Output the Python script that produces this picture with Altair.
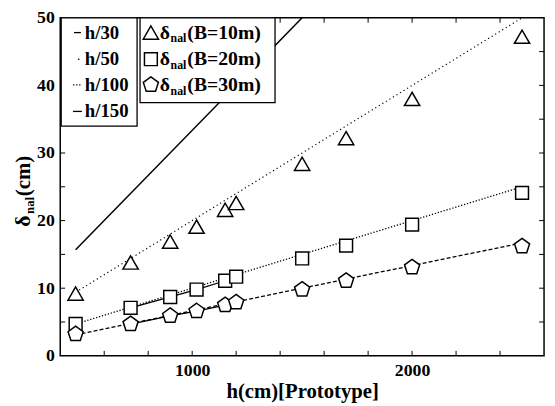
import altair as alt
import pandas as pd

# ---- data ----
h_vals = [470, 720, 900, 1020, 1150, 1200, 1500, 1700, 2000, 2500]
tri_vals = [9.2, 13.8, 16.9, 19.1, 21.6, 22.6, 28.4, 32.2, 38.0, 47.2]   # B=10m
sq_vals = [4.7, 7.1, 8.7, 9.8, 11.1, 11.7, 14.4, 16.3, 19.4, 24.1]       # B=20m
pent_vals = [3.2, 4.7, 5.9, 6.6, 7.5, 7.9, 9.8, 11.1, 13.1, 16.2]        # B=30m

# reference lines (end points)
h30_x, h30_y = [470, 1500], [15.7, 50.0]
h50_x, h50_y = [470, 2500], [9.4, 50.0]
h100_x, h100_y = [470, 2500], [4.7, 25.0]
h150_x, h150_y = [470, 2500], [3.1, 16.7]

# solid connectors between neighbouring measured points
conn_h = [720, 900, 1020, 1150, 1200]
conn_sq = [7.1, 8.7, 9.8, 11.1, 11.7]
conn_pent = [4.7, 5.9, 6.6, 7.5, 7.9]

x_label_vals = [1000, 2000]
y_label_vals = [0, 10, 20, 30, 40, 50]
x_tick_vals = [600, 800, 1000, 1200, 1400, 1600, 1800, 2000, 2200, 2400]
y_tick_vals = [5, 10, 15, 20, 25, 30, 35, 40, 45]

legend1_labels = ["h/30", "h/50", "h/100", "h/150"]
legend2_labels = ["(B=10m)", "(B=20m)", "(B=30m)"]

W, H = 491, 343
FONT = "'Liberation Serif', 'Times New Roman', serif"
PENT = "M0,-1L0.951,-0.309L0.588,0.809L-0.588,0.809L-0.951,-0.309Z"

xs = alt.Scale(domain=[400, 2600], nice=False, zero=False)
ys = alt.Scale(domain=[0, 50], nice=False)

one = pd.DataFrame({"a": [0]})


def xenc(field):
    return alt.X(f"{field}:Q", scale=xs,
                 axis=alt.Axis(values=x_label_vals, ticks=False, domain=False, grid=False,
                               title="h(cm)[Prototype]", format="d"))


def yenc(field):
    return alt.Y(f"{field}:Q", scale=ys,
                 axis=alt.Axis(values=y_label_vals, ticks=False, domain=False, grid=False,
                               title=None))


def ref_line(xv, yv, dash, sw):
    df = pd.DataFrame({"h": xv, "d": yv})
    kw = dict(color="black", strokeWidth=sw, clip=True)
    if dash:
        kw["strokeDash"] = dash
    return alt.Chart(df).mark_line(**kw).encode(x=xenc("h"), y=yenc("d"))


lines = [
    ref_line(h30_x, h30_y, None, 1.5),
    ref_line(h50_x, h50_y, [1.2, 3], 1.2),
    ref_line(h100_x, h100_y, [1.3, 1.8], 1.3),
    ref_line(h150_x, h150_y, [4, 2.2], 1.3),
    ref_line(conn_h, conn_sq, None, 1.3),
    ref_line(conn_h, conn_pent, None, 1.3),
]

pts = pd.DataFrame({"h": h_vals, "tri": tri_vals, "sq": sq_vals, "pent": pent_vals})


def points(field, shape, size):
    return alt.Chart(pts).mark_point(shape=shape, size=size, filled=True, fill="white",
                                     stroke="black", strokeWidth=1.5, opacity=1).encode(
        x=xenc("h"), y=yenc(field))


markers = [points("tri", "triangle-up", 240), points("sq", "square", 170),
           points("pent", PENT, 260)]

# ---- inward ticks ----
xt = pd.DataFrame({"t": x_tick_vals})
yt = pd.DataFrame({"t": y_tick_vals})
ticks = [
    alt.Chart(xt).mark_rule(color="black", strokeWidth=1).encode(
        x=xenc("t"), y=alt.value(H), y2=alt.value(H - 5)),
    alt.Chart(xt).mark_rule(color="black", strokeWidth=1).encode(
        x=xenc("t"), y=alt.value(0), y2=alt.value(5)),
    alt.Chart(yt).mark_rule(color="black", strokeWidth=1).encode(
        y=yenc("t"), x=alt.value(0), x2=alt.value(5)),
    alt.Chart(yt).mark_rule(color="black", strokeWidth=1).encode(
        y=yenc("t"), x=alt.value(W), x2=alt.value(W - 5)),
]


def txt(s, x, y, size=18, angle=0, align="left", baseline="middle"):
    kw = dict(text=s, font=FONT, fontSize=size, fontWeight="bold", color="black",
              align=align, baseline=baseline)
    if angle:
        kw["angle"] = angle
    return alt.Chart(one).mark_text(**kw).encode(x=alt.value(x), y=alt.value(y))


def box(x1, x2, y1, y2):
    return alt.Chart(one).mark_rect(fill="white", stroke="black", strokeWidth=1.3).encode(
        x=alt.value(x1), x2=alt.value(x2), y=alt.value(y1), y2=alt.value(y2))


def seg(x1, x2, y, dash=None):
    kw = dict(color="black", strokeWidth=1.3)
    if dash:
        kw["strokeDash"] = dash
    return alt.Chart(one).mark_rule(**kw).encode(
        x=alt.value(x1), x2=alt.value(x2), y=alt.value(y))


rows = [15, 42, 68, 95]
legend = [box(1, 78, 0, 110), box(81, 218, 0, 86)]
legend += [seg(14, 21, rows[0]), seg(18, 19.5, rows[1]), seg(13, 22, rows[2], [1.3, 1.8]),
           seg(13, 22, rows[3])]
for lab, r in zip(legend1_labels, rows):
    legend.append(txt(lab, 25, r, size=19))

sym_df = pd.DataFrame({"a": [0]})
for shape, size, lab, r in zip(["triangle-up", "square", PENT], [240, 170, 260],
                               legend2_labels, rows):
    legend.append(alt.Chart(sym_df).mark_point(shape=shape, size=size, filled=True,
                                               fill="white", stroke="black",
                                               strokeWidth=1.5, opacity=1).encode(
        x=alt.value(92), y=alt.value(r)))
    legend.append(txt("δ", 101, r, size=20))
    legend.append(txt("nal", 112, r + 6, size=12))
    legend.append(txt(lab, 129, r, size=20))

# y title: δnal(cm) rotated
ytitle = [
    txt("δ", -31, 212, size=22, angle=270, baseline="alphabetic"),
    txt("nal", -27, 199, size=13, angle=270, baseline="alphabetic"),
    txt("(cm)", -31, 181, size=21, angle=270, baseline="alphabetic"),
]

chart = alt.layer(*lines, *ticks, *legend, *markers, *ytitle).properties(
    width=W, height=H,
    padding={"left": 53, "top": 7, "right": 3, "bottom": 48},
    autosize=alt.AutoSizeParams(type="none"),
).configure_view(stroke="black", strokeWidth=1.5).configure_axis(
    labelFont=FONT, labelFontSize=18, labelFontWeight="bold", labelColor="black",
    titleFont=FONT, titleFontSize=21, titleFontWeight="bold", titleColor="black",
).configure_axisX(labelPadding=6, titlePadding=1).configure_axisY(labelPadding=6)

chart.save("out.html", embed_options={"renderer": "svg", "actions": False})
